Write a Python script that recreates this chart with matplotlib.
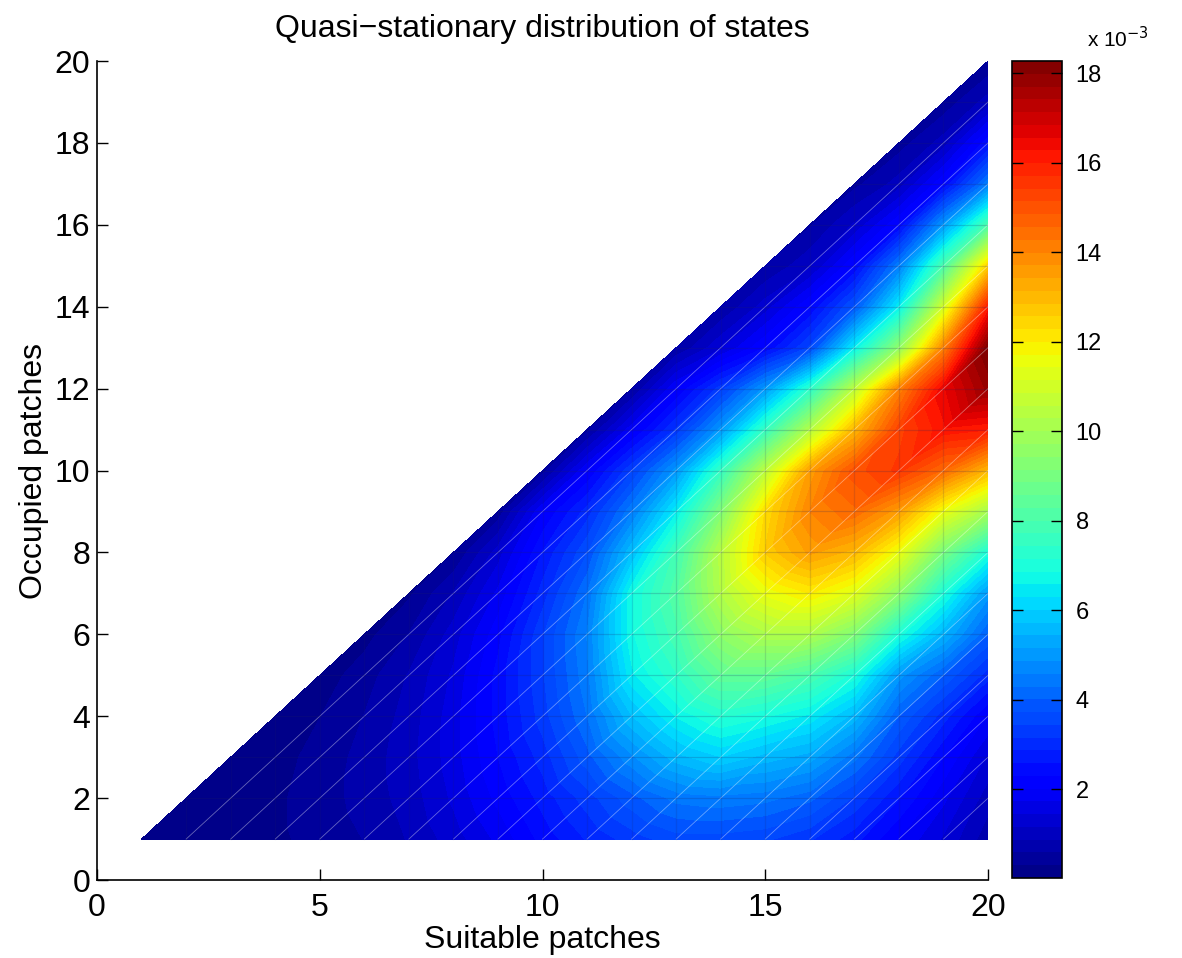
import numpy as np
import matplotlib
matplotlib.use("Agg")
import matplotlib.pyplot as plt
import matplotlib.tri as mtri

plt.rcParams['font.family'] = ['Liberation Sans', 'DejaVu Sans']

# Quasi-stationary probability (x 1e-3) for each number of suitable patches s,
# listed for occupied patches o = 1..s
suitable = list(range(1, 21))
qsd = [
    [0.02],
    [0.10, 0.08],
    [0.15, 0.15, 0.10],
    [0.25, 0.25, 0.20, 0.12],
    [0.40, 0.45, 0.40, 0.30, 0.15],
    [0.60, 0.70, 0.70, 0.60, 0.45, 0.20],
    [0.90, 1.00, 1.05, 1.00, 0.90, 0.60, 0.25],
    [1.30, 1.50, 1.60, 1.60, 1.50, 1.30, 0.90, 0.30],
    [1.80, 2.10, 2.30, 2.40, 2.40, 2.20, 1.80, 1.30, 0.40],
    [2.40, 2.70, 3.00, 3.30, 3.40, 3.40, 3.00, 2.60, 2.00, 0.45],
    [2.90, 3.30, 3.90, 4.30, 4.50, 4.60, 4.30, 3.70, 3.00, 2.00, 0.50],
    [3.30, 3.90, 4.80, 5.70, 6.50, 6.80, 6.80, 5.70, 4.50, 3.40, 1.90, 0.55],
    [3.60, 4.40, 5.60, 6.60, 7.40, 7.90, 8.20, 7.80, 6.50, 5.00, 3.20, 2.00, 0.60],
    [3.60, 4.50, 6.00, 7.20, 8.50, 9.50, 10.3, 10.4, 9.20, 7.50, 5.00, 3.30, 1.40, 0.60],
    [3.50, 4.40, 5.60, 6.90, 8.50, 10.2, 11.5, 12.6, 12.3, 10.5, 7.50, 5.00, 2.30, 1.30, 0.60],
    [3.20, 4.10, 5.30, 6.50, 8.00, 10.2, 12.0, 13.5, 14.0, 13.5, 10.3, 7.30, 3.50, 2.30, 1.10, 0.55],
    [2.70, 3.40, 4.40, 5.60, 7.00, 9.20, 11.3, 13.0, 14.5, 15.0, 13.0, 10.5, 6.50, 3.80, 2.30, 1.20, 0.50],
    [2.00, 2.60, 3.30, 4.00, 5.00, 7.00, 9.50, 11.5, 13.5, 15.5, 15.3, 14.0, 9.50, 6.50, 4.50, 2.30, 1.00, 0.45],
    [1.40, 1.80, 2.30, 3.00, 4.00, 5.50, 7.00, 9.00, 11.5, 14.5, 16.2, 16.5, 14.0, 11.0, 8.00, 5.00, 2.30, 1.00, 0.40],
    [0.70, 1.00, 1.40, 2.00, 3.00, 4.00, 5.00, 7.00, 10.0, 13.0, 16.0, 17.8, 18.27, 16.0, 12.5, 8.00, 4.50, 2.50, 1.00, 0.35],
]
xticks = [0, 5, 10, 15, 20]
yticks = [0, 2, 4, 6, 8, 10, 12, 14, 16, 18, 20]
cbar_ticks = [2, 4, 6, 8, 10, 12, 14, 16, 18]

# build triangulated lattice
xs, ys, zs, idx = [], [], [], {}
for s, col in zip(suitable, qsd):
    for o, v in enumerate(col, start=1):
        idx[(s, o)] = len(xs)
        xs.append(s); ys.append(o); zs.append(v)
tris = []
for s in suitable[:-1]:
    for o in range(1, s + 1):
        tris.append([idx[(s, o)], idx[(s + 1, o)], idx[(s + 1, o + 1)]])
        if o + 1 <= s:
            tris.append([idx[(s, o)], idx[(s + 1, o + 1)], idx[(s, o + 1)]])
triang = mtri.Triangulation(np.array(xs, float), np.array(ys, float), np.array(tris))
z = np.array(zs)

fig = plt.figure(figsize=(11.82, 9.58), dpi=100)
ax = fig.add_axes([0.0821, 0.0814, 0.7538, 0.8549])
levels = np.linspace(z.min(), z.max(), 65)
cs = ax.tricontourf(triang, z, levels=levels, cmap='jet')

# faint mesh lines like the MATLAB rendering
smax = suitable[-1]
smin = suitable[0]
for k in range(1, smax - smin):
    ax.plot([smin + k, smax], [smin, smax - k], color='white', lw=0.6, alpha=0.4)
for j in suitable[1:-1]:
    ax.plot([j, smax], [j, j], color='#202060', lw=0.9, alpha=0.2)
    ax.plot([j, j], [smin, j], color='#202060', lw=0.9, alpha=0.14)

ax.set_xlim(0, 20)
ax.set_ylim(0, 20)
ax.set_xticks(xticks)
ax.set_yticks(yticks)
ax.tick_params(direction='in', length=8, width=1, labelsize=23)
ax.tick_params(axis='x', pad=9)
ax.tick_params(axis='y', pad=5)
for sp in ['top', 'right']:
    ax.spines[sp].set_visible(False)
for sp in ['left', 'bottom']:
    ax.spines[sp].set_linewidth(1.2)
ax.set_title('Quasi\u2212stationary distribution of states', fontsize=23, pad=17)
ax.set_xlabel('Suitable patches', fontsize=23, labelpad=2)
ax.set_ylabel('Occupied patches', fontsize=23, labelpad=4)

cax = fig.add_axes([0.856, 0.0835, 0.0423, 0.8528])
cb = fig.colorbar(cs, cax=cax)
cb.set_ticks(cbar_ticks)
cb.set_ticklabels([str(t) for t in cbar_ticks])
cax.tick_params(direction='in', length=8, width=1, labelsize=17, right=True, left=True, pad=10)
cb.outline.set_linewidth(1.2)
cax.text(1.5, 1.012, 'x 10$^{\u22123}$', transform=cax.transAxes, fontsize=15,
         ha='left', va='bottom')

fig.savefig('out.png', dpi=100)
